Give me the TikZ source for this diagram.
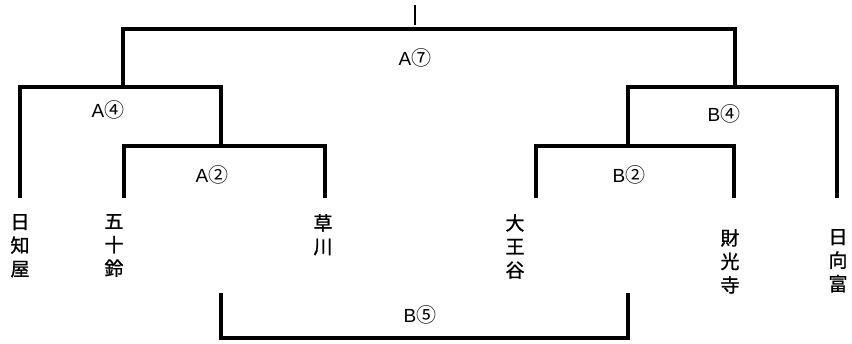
\documentclass[tikz,border=0pt]{standalone}
\usepackage{fontspec}
\setmainfont{Liberation Sans}
\newfontfamily\cjk{Noto Sans CJK JP}
\newfontfamily\cjkb[FakeBold=1.2]{Noto Sans CJK JP}
\newcommand\cnum[1]{{\cjk\fontsize{20}{20}\selectfont #1}}
\begin{document}
\begin{tikzpicture}[x=1pt,y=-1pt,
  br/.style={line width=3.3pt, line join=miter},
  stub/.style={line width=2pt},
  team/.style={anchor=north, align=center, inner sep=0pt, font={\cjkb\fontsize{19}{23.5}\selectfont}},
  rnd/.style={inner sep=0pt, font={\fontsize{19}{19}\selectfont}}]
\useasboundingbox (0,0) rectangle (852,343);
% teams
\node[team] (n1) at (20,214) {日\\知\\屋};
\node[team] (n2) at (114,214) {五\\十\\鈴};
\node[team] (n3) at (323,214) {草\\川};
\node[team] (n4) at (515,214) {大\\王\\谷};
\node[team] (n5) at (730,229) {財\\光\\寺};
\node[team] (n6) at (838,229) {日\\向\\富};
% bracket leaf ends
\coordinate (e1) at (20,198);
\coordinate (e2) at (124,198);
\coordinate (e3) at (325,198);
\coordinate (e4) at (536,198);
\coordinate (e5) at (734,198);
\coordinate (e6) at (837,198);
% match points
\coordinate (a2) at (221,146);
\coordinate (a4) at (123,87);
\coordinate (b2) at (628,146);
\coordinate (b4) at (735,87);
\coordinate (a7) at (415,29);
\coordinate (s1) at (415,5);
\coordinate (s2) at (415,25);
\coordinate (b5l) at (221,293);
\coordinate (b5r) at (628,293);
\coordinate (b5m) at (420,338);
% brackets
\draw[br] (e2) |- (a2) -| (e3);
\draw[br] (e1) |- (a4) -| (a2);
\draw[br] (e4) |- (b2) -| (e5);
\draw[br] (b2) |- (b4) -| (e6);
\draw[br] (a4) |- (a7) -| (b4);
\draw[stub] (s1) -- (s2);
\draw[br] (b5l) |- (b5m) -| (b5r);
% labels
\node[rnd] (la7) at (415,58) {A\cnum{⑦}};
\node[rnd] (la4) at (108,110) {A\cnum{④}};
\node[rnd] (la2) at (212,175) {A\cnum{②}};
\node[rnd] (lb4) at (724,114) {B\cnum{④}};
\node[rnd] (lb2) at (629,175) {B\cnum{②}};
\node[rnd] (lb5) at (420,315) {B\cnum{⑤}};
\end{tikzpicture}
\end{document}
